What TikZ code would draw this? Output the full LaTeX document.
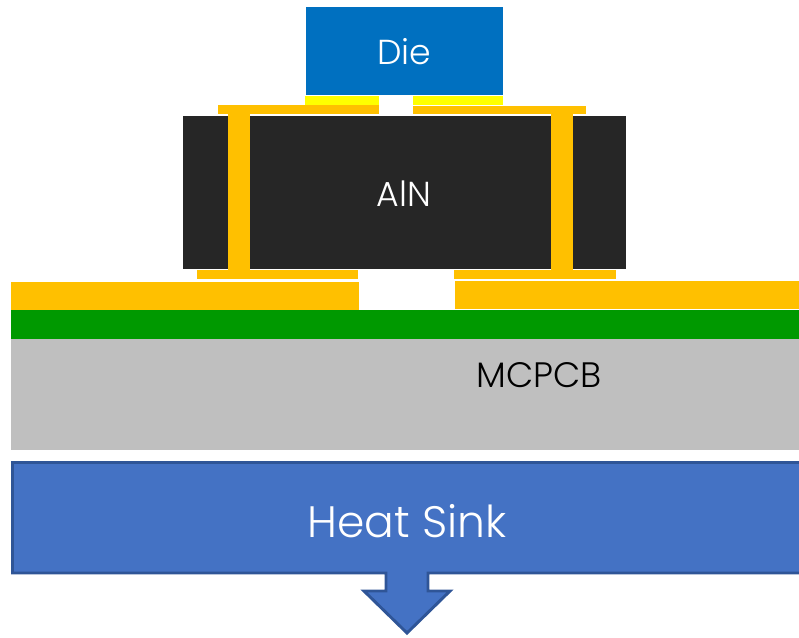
\documentclass[tikz,border=0pt]{standalone}
\usepackage{fontspec}
\setmainfont{Poppins}[UprightFont=* Light]
\definecolor{dieblue}{HTML}{0070C0}
\definecolor{padyellow}{HTML}{FFFF00}
\definecolor{gold}{HTML}{FFC000}
\definecolor{ceramic}{HTML}{262626}
\definecolor{mask}{HTML}{009900}
\definecolor{mcgray}{HTML}{BFBFBF}
\definecolor{sinkblue}{HTML}{4472C4}
\definecolor{sinkedge}{HTML}{2F5597}
\tikzset{
  x=0.75pt,y=-0.75pt,
  goldpart/.style={fill=gold},
  label text/.style={inner sep=0pt,anchor=center},
}
\begin{document}
\begin{tikzpicture}
\useasboundingbox (0,0) rectangle (799,637);
\clip (0,0) rectangle (799,637);
% die and die attach
\fill[dieblue] (306,7) rectangle (503,95);
\fill[padyellow] (305,95.5) rectangle (379,105);
\fill[padyellow] (413,95.5) rectangle (503,105);
% AlN submount
\fill[ceramic] (183,115.5) rectangle (626,269);
% top metal
\fill[goldpart] (218,105) rectangle (379,114);
\fill[goldpart] (413,106) rectangle (586,114);
% vias
\fill[goldpart] (228,114) rectangle (250,270);
\fill[goldpart] (551,114) rectangle (573,270);
% bottom metal
\fill[goldpart] (197,270) rectangle (358,279);
\fill[goldpart] (454,270) rectangle (616,279);
% board traces
\fill[goldpart] (11,282) rectangle (359,310);
\fill[goldpart] (455,281) rectangle (799,309);
% board layers
\fill[mask] (11,310) rectangle (799,339);
\fill[mcgray] (11,339) rectangle (799,450);
% heat sink, a down-arrow callout
\draw[fill=sinkblue,draw=sinkedge,line width=2.2pt,line join=miter]
  (12.5,462.5) -- (805,462.5) -- (805,573) -- (428,573) -- (428,591)
  -- (450,591) -- (407,633) -- (364,591) -- (386,591) -- (386,573)
  -- (12.5,573) -- cycle;
% labels
\node[label text,white,font=\fontsize{26}{30}\selectfont] (die) at (404,52) {Die};
\node[label text,white,font=\fontsize{26}{30}\selectfont] (aln) at (404,194) {AlN};
\node[label text,black,font=\fontsize{26.5}{30}\selectfont] (mcpcb) at (539,375) {MCPCB};
\node[label text,white,font=\fontsize{33}{38}\selectfont] (sink) at (407,521) {Heat Sink};
\end{tikzpicture}
\end{document}
